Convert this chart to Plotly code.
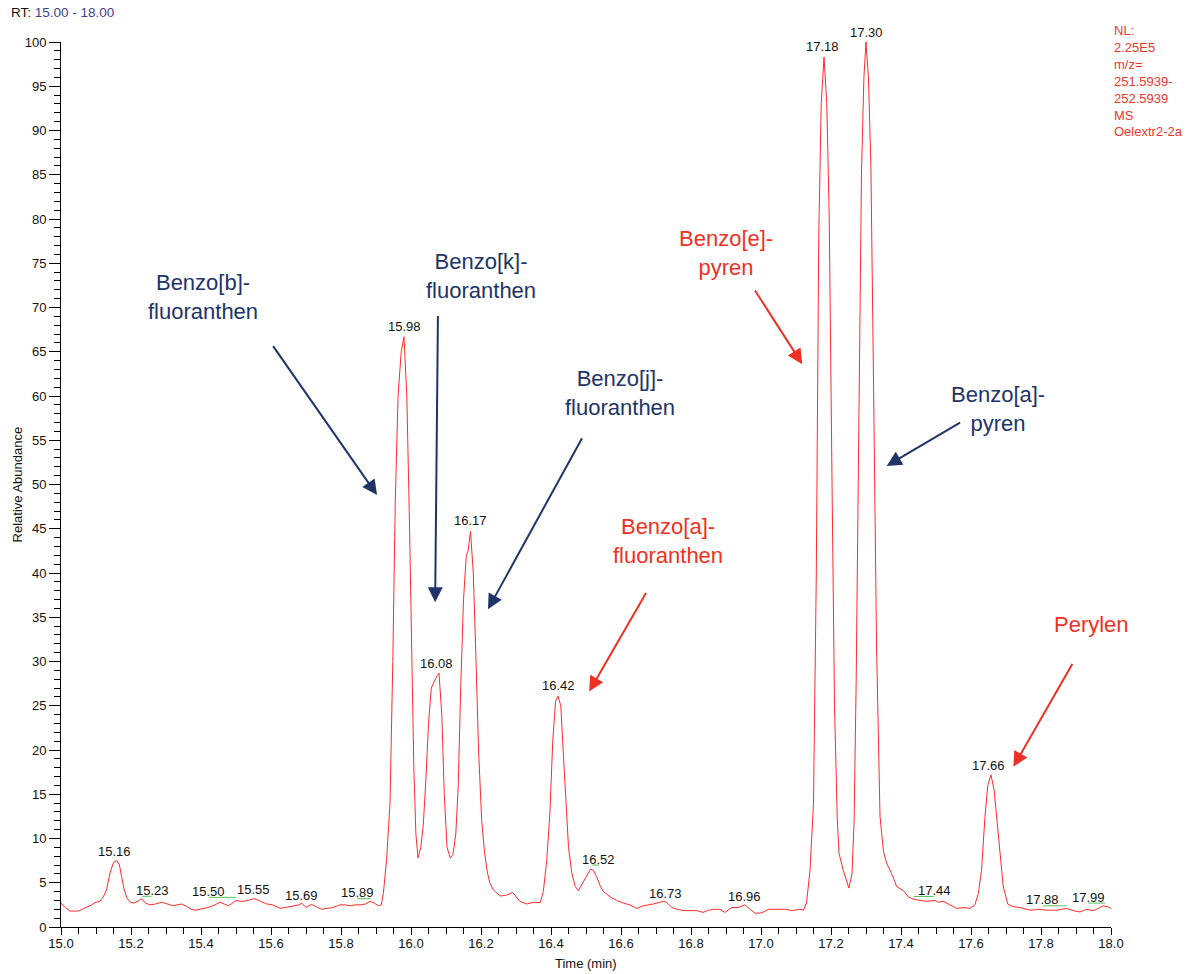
import plotly.graph_objects as go

# Extracted ion chromatogram, m/z 251.5939-252.5939, RT 15.00-18.00 min
time_min = [
    15.000, 15.012, 15.026, 15.050, 15.065, 15.083, 15.100, 15.111, 15.122, 15.130,
    15.140, 15.150, 15.160, 15.167, 15.173, 15.180, 15.188, 15.198, 15.207, 15.220,
    15.230, 15.242, 15.254, 15.270, 15.288, 15.305, 15.320, 15.332, 15.345, 15.360,
    15.372, 15.383, 15.400, 15.420, 15.440, 15.454, 15.466, 15.478, 15.490, 15.500,
    15.512, 15.520, 15.535, 15.550, 15.565, 15.575, 15.588, 15.605, 15.615, 15.626,
    15.640, 15.655, 15.670, 15.680, 15.688, 15.700, 15.712, 15.720, 15.733, 15.745,
    15.760, 15.777, 15.790, 15.797, 15.812, 15.826, 15.840, 15.854, 15.870, 15.883,
    15.895, 15.907, 15.915, 15.921, 15.930, 15.940, 15.948, 15.955, 15.963, 15.972,
    15.980, 15.988, 15.995, 16.002, 16.008, 16.014, 16.020, 16.028, 16.035, 16.043,
    16.050, 16.058, 16.066, 16.073, 16.080, 16.088, 16.095, 16.103, 16.112, 16.120,
    16.128, 16.135, 16.142, 16.150, 16.158, 16.163, 16.170, 16.178, 16.185, 16.193,
    16.202, 16.210, 16.218, 16.225, 16.235, 16.255, 16.273, 16.290, 16.297, 16.311,
    16.330, 16.350, 16.369, 16.378, 16.388, 16.397, 16.405, 16.413, 16.420, 16.428,
    16.436, 16.443, 16.450, 16.459, 16.469, 16.478, 16.492, 16.502, 16.513, 16.521,
    16.530, 16.540, 16.550, 16.569, 16.588, 16.607, 16.625, 16.645, 16.664, 16.692,
    16.721, 16.730, 16.745, 16.760, 16.778, 16.800, 16.816, 16.835, 16.850, 16.864,
    16.883, 16.897, 16.916, 16.935, 16.954, 16.969, 16.983, 17.002, 17.021, 17.045,
    17.069, 17.088, 17.111, 17.121, 17.130, 17.140, 17.150, 17.158, 17.165, 17.172,
    17.180, 17.188, 17.195, 17.203, 17.210, 17.218, 17.223, 17.235, 17.251, 17.260,
    17.266, 17.272, 17.280, 17.287, 17.294, 17.300, 17.307, 17.314, 17.322, 17.330,
    17.340, 17.350, 17.359, 17.373, 17.388, 17.407, 17.421, 17.435, 17.454, 17.473,
    17.497, 17.507, 17.521, 17.540, 17.559, 17.578, 17.597, 17.611, 17.621, 17.630,
    17.640, 17.648, 17.657, 17.666, 17.675, 17.683, 17.692, 17.705, 17.720, 17.740,
    17.769, 17.797, 17.816, 17.845, 17.873, 17.892, 17.911, 17.930, 17.949, 17.964,
    17.978, 17.990, 18.000,
]
rel_abundance = [
    2.7, 2.2, 1.8, 1.8, 2.1, 2.4, 2.8, 2.9, 3.5, 4.2,
    6.1, 7.3, 7.5, 7.0, 5.7, 4.3, 3.3, 2.8, 2.7, 2.9,
    3.2, 2.7, 2.5, 2.6, 2.8, 2.6, 2.4, 2.5, 2.6, 2.3,
    2.0, 1.9, 2.0, 2.2, 2.5, 2.8, 2.6, 2.4, 2.7, 3.0,
    2.9, 2.9, 3.0, 3.2, 3.0, 2.8, 2.6, 2.5, 2.3, 2.1,
    2.2, 2.3, 2.4, 2.5, 2.7, 2.2, 2.5, 2.5, 2.2, 2.0,
    2.1, 2.2, 2.4, 2.5, 2.5, 2.4, 2.5, 2.5, 2.6, 2.9,
    2.7, 2.4, 2.5, 3.8, 7.5, 14.0, 30.0, 48.0, 60.0, 65.0,
    66.7, 60.0, 47.0, 31.0, 18.0, 10.5, 7.8, 9.0, 11.5, 17.0,
    23.0, 27.0, 27.8, 28.3, 28.7, 24.0, 15.0, 9.0, 7.8, 8.2,
    10.5, 16.0, 27.0, 37.0, 42.0, 42.5, 44.7, 40.0, 31.0, 20.0,
    12.0, 8.5, 6.2, 5.0, 4.2, 3.5, 3.6, 3.9, 3.6, 2.9,
    2.6, 2.8, 2.75, 4.0, 7.6, 13.0, 21.0, 25.5, 26.1, 25.0,
    19.0, 13.5, 9.0, 6.2, 4.6, 4.1, 5.1, 5.9, 6.55, 6.4,
    5.7, 4.7, 4.0, 3.4, 3.0, 2.7, 2.5, 2.1, 2.4, 2.6,
    2.9, 2.8, 2.2, 2.0, 1.85, 1.85, 1.85, 1.65, 1.9, 2.0,
    2.0, 1.65, 2.2, 2.2, 2.5, 2.0, 1.55, 1.6, 2.0, 2.0,
    2.0, 1.85, 2.0, 1.9, 2.7, 6.4, 14.0, 40.0, 78.0, 93.0,
    98.3, 93.0, 80.0, 50.0, 25.0, 12.0, 8.3, 6.4, 4.4, 6.0,
    12.0, 28.0, 62.0, 85.0, 96.0, 100.0, 96.0, 86.0, 60.0, 32.0,
    12.5, 8.5, 7.2, 6.05, 4.55, 4.1, 3.4, 3.15, 3.0, 2.9,
    3.0, 2.8, 2.9, 2.5, 2.1, 2.2, 2.1, 2.5, 3.8, 6.4,
    12.5, 16.0, 17.2, 15.5, 12.0, 8.3, 4.6, 2.6, 2.3, 2.2,
    1.9, 2.0, 1.9, 1.9, 2.1, 1.85, 1.7, 2.0, 1.85, 2.1,
    2.4, 2.3, 2.1,
]

# Integration baseline markers (start, end, level)
base_start = [15.231, 15.423, 15.846, 16.518, 17.437, 17.806, 17.935]
base_end = [15.259, 15.500, 15.886, 16.537, 17.494, 17.873, 17.983]
base_level = [3.47, 3.35, 3.2, 7.0, 3.45, 2.4, 2.7]

# Retention-time labels: text, x (min), y (% centre of text)
rt_text = ["15.16", "15.23", "15.50", "15.55", "15.69", "15.89", "15.98", "16.08",
           "16.17", "16.42", "16.52", "16.73", "16.96", "17.18", "17.30", "17.44",
           "17.66", "17.88", "17.99"]
rt_x = [15.153, 15.260, 15.422, 15.549, 15.688, 15.846, 15.980, 16.074,
        16.171, 16.420, 16.536, 16.727, 16.953, 17.177, 17.300, 17.496,
        17.651, 17.805, 17.935]
rt_y = [8.5, 4.1, 4.0, 4.25, 3.6, 3.9, 67.8, 29.8,
        45.9, 27.3, 7.65, 3.8, 3.5, 99.5, 100.0, 4.1,
        18.2, 3.1, 3.35]
rt_shift = [0, 0, 0, 0, 0, 0, 0, 0, 0, 0, 0, 0, 0, 0, 10, 0, 0, 0, 0]

# Compound names with arrow tails/heads (min, %)
NAVY = "#203468"
RED = "#ee3124"
compounds = ["Benzo[b]-<br>fluoranthen", "Benzo[k]-<br>fluoranthen", "Benzo[j]-<br>fluoranthen",
             "Benzo[a]-<br>pyren", "Benzo[e]-<br>pyren", "Benzo[a]-<br>fluoranthen", "Perylen"]
compound_colors = [NAVY, NAVY, NAVY, NAVY, RED, RED, RED]
name_x = [15.405, 16.200, 16.597, 17.677, 16.900, 16.734, 17.945]
name_y = [71.2, 73.6, 60.3, 58.5, 76.2, 43.6, 34.2]
tail_x = [15.603, 16.077, 16.491, 17.573, 16.980, 16.674, 17.892]
tail_y = [65.8, 69.2, 55.4, 57.1, 72.1, 37.9, 29.9]
head_x = [15.903, 16.069, 16.220, 17.359, 17.118, 16.509, 17.721]
head_y = [48.8, 36.7, 35.9, 52.1, 63.6, 26.6, 18.1]

FONT = "Liberation Sans, Arial, sans-serif"

fig = go.Figure()
fig.add_trace(go.Scatter(
    x=time_min, y=rel_abundance, mode="lines",
    line=dict(color="#ff2a2a", width=1), hoverinfo="x+y", showlegend=False,
))

bx, by = [], []
for s, e, lv in zip(base_start, base_end, base_level):
    bx += [s, e, None]
    by += [lv, lv, None]
fig.add_trace(go.Scatter(
    x=bx, y=by, mode="lines", line=dict(color="#55c455", width=1),
    hoverinfo="skip", showlegend=False,
))

annotations = []
for txt, x, y, sh in zip(rt_text, rt_x, rt_y, rt_shift):
    annotations.append(dict(
        x=x, y=y, xref="x", yref="y", text=txt, showarrow=False,
        xanchor="center", yanchor="middle", yshift=sh,
        font=dict(family=FONT, size=13, color="#111111"),
    ))

for txt, col, nx, ny, tx, ty, hx, hy in zip(compounds, compound_colors, name_x, name_y,
                                            tail_x, tail_y, head_x, head_y):
    annotations.append(dict(
        x=nx, y=ny, xref="x", yref="y", text=txt, showarrow=False,
        xanchor="center", yanchor="middle", align="center",
        font=dict(family=FONT, size=22, color=col),
    ))
    annotations.append(dict(
        x=hx, y=hy, ax=tx, ay=ty, xref="x", yref="y", axref="x", ayref="y",
        text="", showarrow=True, arrowhead=2, arrowsize=1.5, arrowwidth=2,
        arrowcolor=col,
    ))

annotations += [
    dict(x=-0.0495, y=1.0328, xref="paper", yref="paper", showarrow=False,
         xanchor="left", yanchor="middle",
         text="RT: <span style='color:#40408f'>15.00 - 18.00</span>",
         font=dict(family=FONT, size=13.5, color="#111111")),
    dict(x=1.001, y=1.024, xref="paper", yref="paper", showarrow=False,
         xanchor="left", yanchor="top", align="left",
         text="NL:<br>2.25E5<br>m/z=<br>251.5939-<br>252.5939<br>MS<br>Oelextr2-2a",
         font=dict(family=FONT, size=13, color="#f0352b")),
    dict(x=-0.041, y=0.5, xref="paper", yref="paper", showarrow=False,
         xanchor="center", yanchor="middle", textangle=-90,
         text="Relative Abundance", font=dict(family=FONT, size=13, color="#111111")),
    dict(x=0.5, y=-0.0407, xref="paper", yref="paper", showarrow=False,
         xanchor="center", yanchor="middle",
         text="Time (min)", font=dict(family=FONT, size=13, color="#111111")),
]

fig.update_layout(
    width=1187, height=974,
    margin=dict(l=61, r=76, t=42, b=47),
    paper_bgcolor="white", plot_bgcolor="white",
    font=dict(family=FONT, size=13, color="#111111"),
    annotations=annotations,
    xaxis=dict(
        range=[15.0, 18.0], tick0=15.0, dtick=0.2, tickformat=".1f",
        ticks="outside", ticklen=7, tickwidth=1, tickcolor="black",
        ticklabelstandoff=-3,
        minor=dict(dtick=0.05, ticks="outside", ticklen=6, tickwidth=1, tickcolor="black"),
        showline=True, linecolor="black", linewidth=1,
        showgrid=False, zeroline=False,
        tickfont=dict(family=FONT, size=13, color="#111111"),
    ),
    yaxis=dict(
        range=[0, 100], tick0=0, dtick=5,
        ticks="outside", ticklen=11, tickwidth=1, tickcolor="black",
        minor=dict(dtick=1, ticks="outside", ticklen=6, tickwidth=1, tickcolor="black"),
        showline=True, linecolor="black", linewidth=1,
        showgrid=False, zeroline=False,
        tickfont=dict(family=FONT, size=13, color="#111111"),
    ),
)

fig.write_html("out.html")
